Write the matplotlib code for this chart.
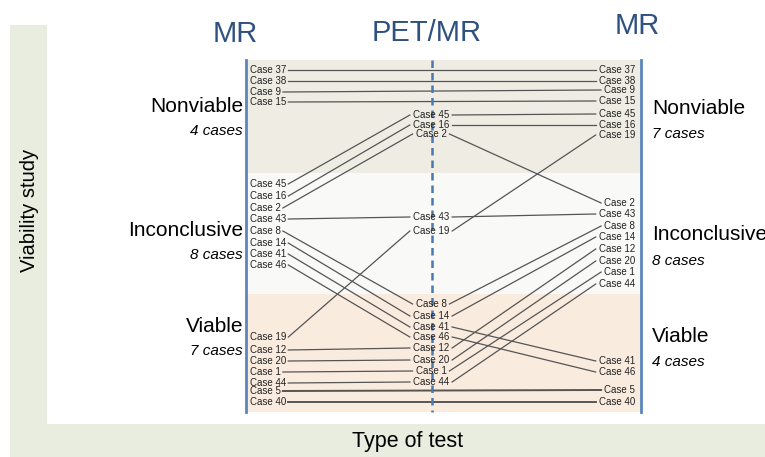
import matplotlib
matplotlib.use('Agg')
import matplotlib.pyplot as plt
from matplotlib.patches import Rectangle

plt.rcParams['font.family'] = ['Liberation Sans', 'DejaVu Sans']

# Columnas del diagrama (etiqueta, posicion vertical en pixeles)
mr1_cases = ['Case 37', 'Case 38', 'Case 9', 'Case 15',
             'Case 45', 'Case 16', 'Case 2', 'Case 43', 'Case 8', 'Case 14', 'Case 41', 'Case 46',
             'Case 19', 'Case 12', 'Case 20', 'Case 1', 'Case 44', 'Case 5', 'Case 40']
mr1_y = [70, 81, 92, 102,
         184, 196, 208, 219, 231, 243, 254, 265,
         337, 350, 361, 372, 383, 391, 402]

pet_cases = ['Case 45', 'Case 16', 'Case 2',
             'Case 43', 'Case 19',
             'Case 8', 'Case 14', 'Case 41', 'Case 46', 'Case 12', 'Case 20', 'Case 1', 'Case 44']
pet_y = [115, 125, 134,
         217, 231,
         304, 316, 327, 337, 348, 360, 371, 382]

mr2_cases = ['Case 37', 'Case 38', 'Case 9', 'Case 15', 'Case 45', 'Case 16', 'Case 19',
             'Case 2', 'Case 43', 'Case 8', 'Case 14', 'Case 12', 'Case 20', 'Case 1', 'Case 44',
             'Case 41', 'Case 46', 'Case 5', 'Case 40']
mr2_y = [70, 81, 90, 101, 114, 125, 135,
         203, 214, 226, 237, 249, 261, 272, 284,
         361, 372, 390, 402]

categories = ['Nonviable', 'Inconclusive', 'Viable']
mr1_counts = [4, 8, 7]
mr2_counts = [7, 8, 4]
column_titles = ['MR', 'PET/MR', 'MR']

fig = plt.figure(figsize=(7.65, 4.57), dpi=100)
ax = fig.add_axes([0, 0, 1, 1])
ax.set_xlim(0, 765)
ax.set_ylim(457, 0)
ax.axis('off')

verde = '#e9eddf'
azul = '#5a86bb'
azul_titulo = '#2e5180'

# fondo verde en L
ax.add_patch(Rectangle((10, 25), 37, 432, color=verde, lw=0))
ax.add_patch(Rectangle((10, 424), 755, 33, color=verde, lw=0))

# bandas de categorias
x0, x1 = 246, 641
bandas = [(60, 173, '#efece4'), (173, 294, '#f9f9f7'), (294, 412, '#faebdf')]
for ya, yb, c in bandas:
    ax.add_patch(Rectangle((x0, ya), x1 - x0, yb - ya, color=c, lw=0, zorder=0))

ax.plot([x0, x0], [60, 412], color=azul, lw=2, zorder=3)
ax.plot([x1, x1], [60, 412], color=azul, lw=2, zorder=3)
ax.plot([432, 432], [60, 412], color='#4a78b0', lw=1.8, ls=(0, (3, 2)), zorder=3)

# titulos de columna
ax.text(235, 34, column_titles[0], color=azul_titulo, fontsize=21, ha='center', va='center')
ax.text(427, 33, column_titles[1], color=azul_titulo, fontsize=21, ha='center', va='center')
ax.text(637, 26, column_titles[2], color=azul_titulo, fontsize=21, ha='center', va='center')

ax.text(30, 210, 'Viability study', fontsize=14.5, rotation=90, ha='center', va='center')
ax.text(408, 441, 'Type of test', fontsize=15.5, ha='center', va='center')

# categorias
cat_y1 = [106, 230, 326]
cat_y2 = [108, 235, 336]
for i in range(3):
    ax.text(243, cat_y1[i], categories[i], fontsize=15, ha='right', va='center')
    ax.text(243, cat_y1[i] + 25, str(mr1_counts[i]) + ' cases', fontsize=11,
            style='italic', ha='right', va='center')
    ax.text(652, cat_y2[i], categories[i], fontsize=15, ha='left', va='center')
    ax.text(652, cat_y2[i] + 26, str(mr2_counts[i]) + ' cases', fontsize=11,
            style='italic', ha='left', va='center')

fs = 7
t1 = {}
for c, y in zip(mr1_cases, mr1_y):
    t1[c] = (ax.text(250, y, c, fontsize=fs, ha='left', va='center', color='#222222'), y)
tp = {}
for c, y in zip(pet_cases, pet_y):
    tp[c] = (ax.text(431, y, c, fontsize=fs, ha='center', va='center', color='#222222'), y)
t2 = {}
for c, y in zip(mr2_cases, mr2_y):
    t2[c] = (ax.text(635, y, c, fontsize=fs, ha='right', va='center', color='#222222'), y)

fig.canvas.draw()
r = fig.canvas.get_renderer()
inv = ax.transData.inverted()

def extremos(t):
    bb = t.get_window_extent(r)
    a = inv.transform((bb.x0, bb.y0))
    b = inv.transform((bb.x1, bb.y1))
    return a[0], b[0]

for c in mr1_cases:
    txt, ya = t1[c]
    xa = extremos(txt)[1] + 2
    txt2, yc = t2[c]
    xc = extremos(txt2)[0] - 3
    grosor = 1.4 if c in ('Case 5', 'Case 40') else 0.9
    if c in tp:
        txtp, yb = tp[c]
        pa, pb = extremos(txtp)
        ax.plot([xa, pa - 3], [ya, yb], color='#555555', lw=grosor, zorder=2)
        ax.plot([pb + 3, xc], [yb, yc], color='#555555', lw=grosor, zorder=2)
    else:
        ax.plot([xa, xc], [ya, yc], color='#555555', lw=grosor, zorder=2)

plt.savefig('out.png', dpi=100)
